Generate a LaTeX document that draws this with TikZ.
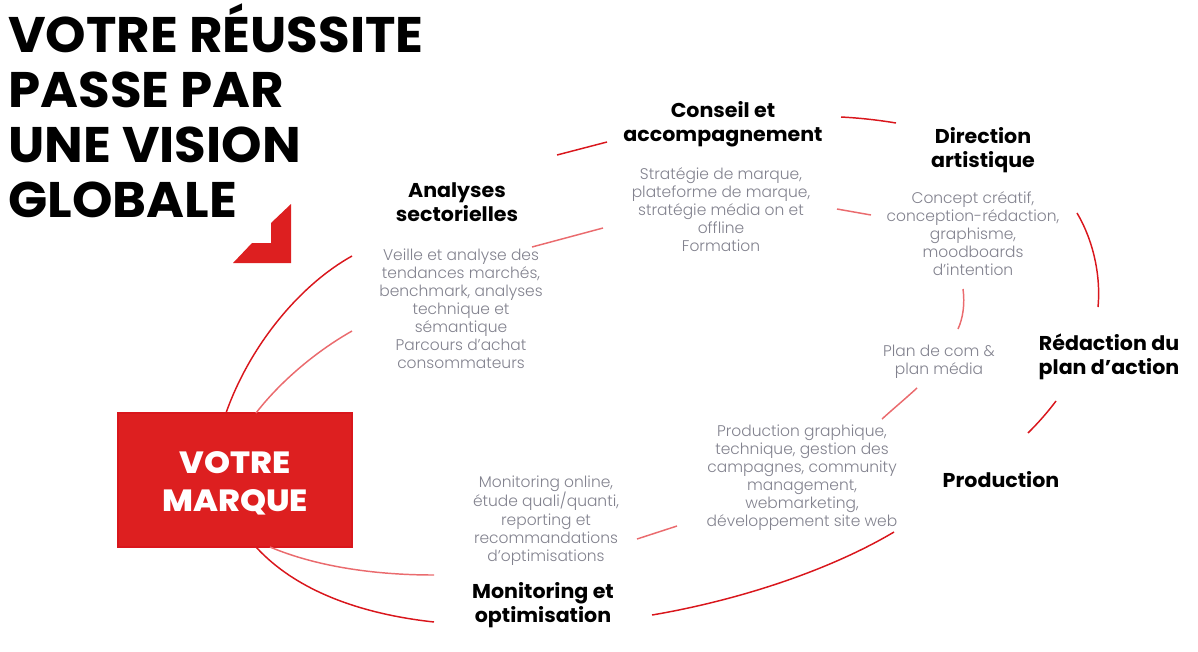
\documentclass[tikz,border=0pt]{standalone}
\usepackage{fontspec}
\setmainfont{Poppins}
\IfFontExistsTF{Poppins Light}{\newfontfamily\lightfont{Poppins Light}}{\newfontfamily\lightfont{Poppins}}
\IfFontExistsTF{Poppins ExtraBold}{\newfontfamily\heavyfont[FakeStretch=1.08]{Poppins ExtraBold}}{\newfontfamily\heavyfont[FakeStretch=1.1]{Poppins Bold}}
\newfontfamily\titlefont[FakeStretch=1.03]{Poppins Bold}
\newfontfamily\headfont[FakeStretch=1.03]{Poppins Bold}
\definecolor{dred}{RGB}{217,22,28}
\definecolor{lred}{RGB}{234,107,110}
\definecolor{boxred}{RGB}{221,31,32}
\definecolor{greytxt}{RGB}{130,130,142}
\newcommand{\mlines}[1]{\begin{tabular}[t]{@{}c@{}}#1\end{tabular}}
\tikzset{
  title/.style={anchor=base west, inner sep=0pt, font=\fontsize{37.5pt}{41.25pt}\selectfont\titlefont},
  head/.style={anchor=base, inner sep=0pt, font=\fontsize{15pt}{18pt}\selectfont\headfont},
  desc/.style={anchor=base, inner sep=0pt, text=greytxt, font=\fontsize{11.6pt}{13.6pt}\selectfont\lightfont},
  darkarc/.style={draw=dred, line width=1.1pt},
  lightarc/.style={draw=lred, line width=1.1pt},
}
\begin{document}
\begin{tikzpicture}[x=0.75pt,y=-0.75pt]
\useasboundingbox (0,0) rectangle (1198,651);
% title
\node[title] (title) at (8,52) {\setlength{\baselineskip}{41.25pt}\begin{tabular}[t]{@{}l@{}}VOTRE RÉUSSITE\\PASSE PAR\\UNE VISION\\GLOBALE\end{tabular}};
% red corner mark
\fill[boxred] (291,204) -- (271,223) -- (271,243) -- (252,243) -- (233,263) -- (291,263) -- cycle;
% central box
\node[draw=dred, line width=0.8pt, fill=boxred, minimum width=234*0.75pt, minimum height=134*0.75pt, inner sep=0pt] (marque) at (235,480) {};
\node[anchor=base, inner sep=0pt, text=white, font=\fontsize{23pt}{29pt}\selectfont\heavyfont] (marquetxt) at (235,473) {\mlines{VOTRE\\MARQUE}};
% headings
\node[head] (conseil) at (723,117) {\mlines{Conseil et\\accompagnement}};
\node[head] (analyses) at (457,197) {\mlines{Analyses\\sectorielles}};
\node[head] (direction) at (983,143) {\mlines{Direction\\artistique}};
\node[head] (redaction) at (1109,350) {\mlines{Rédaction du\\plan d’action}};
\node[head] (production) at (1001,487) {Production};
\node[head] (monitoring) at (543,598) {\mlines{Monitoring et\\optimisation}};
% descriptions
\node[desc] (dconseil) at (721,179) {\mlines{Stratégie de marque,\\plateforme de marque,\\stratégie média on et\\offline\\Formation}};
\node[desc] (danalyses) at (461,260) {\mlines{Veille et analyse des\\tendances marchés,\\benchmark, analyses\\technique et\\sémantique\\Parcours d’achat\\consommateurs}};
\node[desc] (ddirection) at (973,203) {\mlines{Concept créatif,\\conception-rédaction,\\graphisme,\\moodboards\\d’intention}};
\node[desc] (dplan) at (939,356) {\mlines{Plan de com \&\\plan média}};
\node[desc] (dproduction) at (802,436) {\mlines{Production graphique,\\technique, gestion des\\campagnes, community\\management,\\webmarketing,\\développement site web}};
\node[desc] (dmonitoring) at (546,487) {\mlines{Monitoring online,\\étude quali/quanti,\\reporting et\\recommandations\\d’optimisations}};
% arc end points
\coordinate (a1s) at (226,413); \coordinate (a1e) at (352,256);
\coordinate (a2s) at (256,413); \coordinate (a2e) at (352,331);
\coordinate (b1s) at (557,155); \coordinate (b1e) at (607,142);
\coordinate (b2s) at (532,247); \coordinate (b2e) at (603,228);
\coordinate (c1s) at (841,117); \coordinate (c1e) at (896,123);
\coordinate (c2s) at (837,209); \coordinate (c2e) at (871,215);
\coordinate (d1s) at (1077,213); \coordinate (d1e) at (1098,307);
\coordinate (d2s) at (963,289); \coordinate (d2e) at (958,329);
\coordinate (e1s) at (1056,401); \coordinate (e1e) at (1028,433);
\coordinate (e2s) at (917,388); \coordinate (e2e) at (882,419);
\coordinate (f1s) at (894,532); \coordinate (f1e) at (652,615);
\coordinate (f2s) at (677,526); \coordinate (f2e) at (637,539);
\coordinate (g1s) at (256,547); \coordinate (g1e) at (434,622);
\coordinate (g2s) at (270,547); \coordinate (g2e) at (434,575);
% arcs
\draw[darkarc] (a1s) .. controls (250,345) and (300,285) .. (a1e);
\draw[lightarc] (a2s) .. controls (280,382) and (315,352) .. (a2e);
\draw[darkarc] (b1s) -- (b1e);
\draw[lightarc] (b2s) -- (b2e);
\draw[darkarc] (c1s) .. controls (860,118) and (878,120) .. (c1e);
\draw[lightarc] (c2s) -- (c2e);
\draw[darkarc] (d1s) .. controls (1093,240) and (1101,275) .. (d1e);
\draw[lightarc] (d2s) .. controls (965,304) and (963,318) .. (d2e);
\draw[darkarc] (e1s) .. controls (1047,413) and (1038,423) .. (e1e);
\draw[lightarc] (e2s) .. controls (905,399) and (893,409) .. (e2e);
\draw[darkarc] (f1s) .. controls (830,570) and (740,600) .. (f1e);
\draw[lightarc] (f2s) -- (f2e);
\draw[darkarc] (g1s) .. controls (300,595) and (370,615) .. (g1e);
\draw[lightarc] (g2s) .. controls (320,568) and (380,575) .. (g2e);
\end{tikzpicture}
\end{document}
